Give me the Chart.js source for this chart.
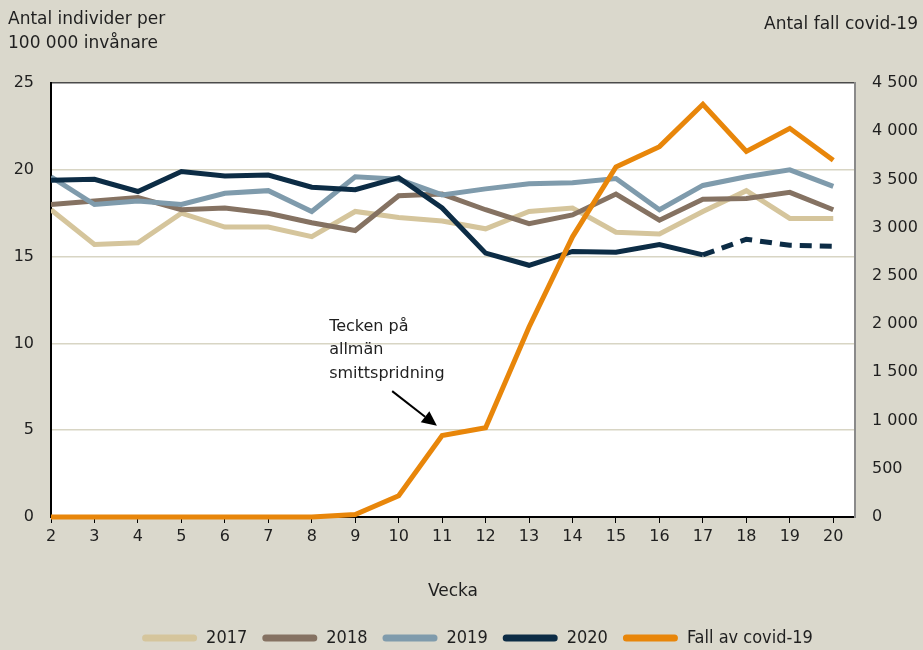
<!DOCTYPE html>
<html>
<head>
<meta charset="utf-8">
<script src="https://cdn.jsdelivr.net/npm/chart.js@4.4.1/dist/chart.umd.min.js"></script>
<style>
  html, body { margin: 0; padding: 0; background: #dad8cc; }
  #wrap { width: 923px; height: 650px; }
</style>
</head>
<body>
<div id="wrap"><canvas id="chart" width="923" height="650"></canvas></div>
<script>
const weeks = [2, 3, 4, 5, 6, 7, 8, 9, 10, 11, 12, 13, 14, 15, 16, 17, 18, 19, 20];
const y2017 = [17.7, 15.7, 15.8, 17.5, 16.7, 16.7, 16.15, 17.6, 17.25, 17.05, 16.6, 17.6, 17.8, 16.4, 16.3, 17.6, 18.8, 17.2, 17.2];
const y2018 = [18.0, 18.2, 18.4, 17.7, 17.8, 17.5, 16.95, 16.5, 18.5, 18.6, 17.7, 16.9, 17.4, 18.6, 17.1, 18.3, 18.35, 18.7, 17.7];
const y2019 = [19.6, 18.0, 18.2, 18.0, 18.65, 18.8, 17.6, 19.6, 19.45, 18.55, 18.9, 19.2, 19.25, 19.5, 17.7, 19.1, 19.6, 20.0, 19.05];
const y2020 = [19.4, 19.45, 18.75, 19.9, 19.65, 19.7, 19.0, 18.85, 19.55, 17.8, 15.2, 14.5, 15.3, 15.25, 15.7, 15.1, 16.0, 15.65, 15.6];
const covidCases = [0, 0, 0, 0, 0, 0, 0, 25, 220, 845, 925, 1970, 2905, 3630, 3840, 4280, 3790, 4030, 3700];
// 2020 is preliminary from week 17 on (dashed)
const prelimFrom = 17;

const leftTicks = [0, 5, 10, 15, 20, 25];
const rightTicks = [0, 500, 1000, 1500, 2000, 2500, 3000, 3500, 4000, 4500];

const leftTitle = ["Antal individer per", "100 000 invånare"];
const rightTitle = "Antal fall covid-19";
const xTitle = "Vecka";
const noteLines = ["Tecken på", "allmän", "smittspridning"];
// annotation anchors, in data units (x = week, y = left axis)
const noteAt = { x: 8.4, y: 10.96 };
const arrowFrom = { x: 9.85, y: 7.25 };
const arrowTo = { x: 10.88, y: 5.25 };

const FONT = "'DejaVu Sans', sans-serif";
const INK = "#1f1f1f";

const pts = (vals) => weeks.map((w, i) => ({ x: w, y: vals[i] }));
const fmtThousands = (v) => String(v).replace(/\B(?=(\d{3})+(?!\d))/g, " ");

function line(label, vals, color, axis, order, extra = {}) {
  return {
    label, data: pts(vals), yAxisID: axis, order,
    borderColor: color, backgroundColor: color, borderWidth: 5,
    pointRadius: 0, pointHoverRadius: 0, tension: 0, fill: false,
    ...extra,
  };
}

const decor = {
  id: "decor",
  beforeDraw(chart) {
    const { ctx, chartArea: a } = chart;
    ctx.save();
    ctx.fillStyle = "#ffffff";
    ctx.fillRect(a.left, a.top, a.right - a.left, a.bottom - a.top);
    ctx.restore();
  },
  afterDraw(chart) {
    const { ctx, chartArea: a, scales } = chart;
    ctx.save();
    ctx.strokeStyle = "#8a8a8a";
    ctx.lineWidth = 2;
    ctx.beginPath();
    ctx.moveTo(a.right, a.top);
    ctx.lineTo(a.right, a.bottom);
    ctx.stroke();

    ctx.fillStyle = INK;
    ctx.font = `17px ${FONT}`;
    ctx.textBaseline = "middle";
    ctx.textAlign = "left";
    ctx.fillText(leftTitle[0], 8, 20);
    ctx.fillText(leftTitle[1], 8, 44);
    ctx.textAlign = "right";
    ctx.fillText(rightTitle, 918, 25);

    // annotation
    const x = scales.x, y = scales.y;
    ctx.textAlign = "left";
    ctx.font = `16px ${FONT}`;
    const nx = x.getPixelForValue(noteAt.x), ny = y.getPixelForValue(noteAt.y);
    noteLines.forEach((t, i) => ctx.fillText(t, nx, ny + i * 23.4));

    const x0 = x.getPixelForValue(arrowFrom.x), y0 = y.getPixelForValue(arrowFrom.y);
    const x1 = x.getPixelForValue(arrowTo.x), y1 = y.getPixelForValue(arrowTo.y);
    const ang = Math.atan2(y1 - y0, x1 - x0);
    const head = 15, half = 7;
    const bx = x1 - head * Math.cos(ang), by = y1 - head * Math.sin(ang);
    ctx.strokeStyle = "#000";
    ctx.fillStyle = "#000";
    ctx.lineWidth = 2;
    ctx.beginPath();
    ctx.moveTo(x0, y0);
    ctx.lineTo(bx, by);
    ctx.stroke();
    ctx.beginPath();
    ctx.moveTo(x1, y1);
    ctx.lineTo(bx + half * Math.sin(ang), by - half * Math.cos(ang));
    ctx.lineTo(bx - half * Math.sin(ang), by + half * Math.cos(ang));
    ctx.closePath();
    ctx.fill();
    ctx.restore();
  },
};

new Chart(document.getElementById("chart"), {
  type: "line",
  data: {
    datasets: [
      line("2017", y2017, "#d5c59c", "y", 4),
      line("2018", y2018, "#857262", "y", 3),
      line("2019", y2019, "#7f9bac", "y", 2),
      line("2020", y2020, "#0c2c45", "y", 1, {
        segment: { borderDash: (c) => (weeks[c.p0DataIndex] >= prelimFrom ? [12, 8] : undefined) },
      }),
      line("Fall av covid-19", covidCases, "#e8860a", "y1", 0, { clip: 8 }),
    ],
  },
  options: {
    responsive: false,
    animation: false,
    events: [],
    // negative right padding widens the legend box so it centres like the original
    layout: { padding: { top: 83, left: 0, right: -32, bottom: -7 } },
    plugins: {
      tooltip: { enabled: false },
      legend: {
        position: "bottom",
        labels: {
          color: INK,
          font: { family: "'DejaVu Sans Condensed', " + FONT, size: 18 },
          boxWidth: 55,
          boxHeight: 7,
          useBorderRadius: true,
          borderRadius: 3.5,
          padding: 15,
          sort: (a, b) => a.datasetIndex - b.datasetIndex,
          generateLabels: (chart) =>
            Chart.defaults.plugins.legend.labels.generateLabels(chart).map((l) => ({ ...l, lineWidth: 0 })),
        },
      },
    },
    scales: {
      x: {
        type: "linear",
        min: 2,
        max: 20.5,
        afterFit: (s) => { s.height = 97; },
        ticks: { stepSize: 1, includeBounds: false, color: INK, font: { family: FONT, size: 16 }, padding: 4 },
        grid: { drawOnChartArea: false, drawTicks: true, tickLength: 6, tickColor: "#000", tickWidth: 1 },
        border: { color: "#000", width: 2 },
        title: { display: true, text: xTitle, color: INK, font: { family: FONT, size: 17 }, padding: { top: 0, bottom: 12 } },
      },
      y: {
        position: "left",
        min: 0,
        max: 25,
        afterFit: (s) => { s.width = 51; },
        afterBuildTicks: (s) => { s.ticks = leftTicks.map((v) => ({ value: v })); },
        ticks: { color: INK, font: { family: FONT, size: 16 }, padding: 17 },
        grid: {
          drawTicks: false,
          lineWidth: 1.5,
          color: (c) => (c.tick.value === 25 ? "#4a4a4a" : c.tick.value === 0 ? "rgba(0,0,0,0)" : "#d8d5c4"),
        },
        border: { color: "#000", width: 2 },
      },
      y1: {
        position: "right",
        min: 0,
        max: 4500,
        afterFit: (s) => { s.width = 100; },
        afterBuildTicks: (s) => { s.ticks = rightTicks.map((v) => ({ value: v })); },
        ticks: { color: INK, font: { family: FONT, size: 16 }, padding: 17, callback: (v) => fmtThousands(v) },
        grid: { drawOnChartArea: false, drawTicks: false },
        border: { color: "#8a8a8a", width: 2 },
      },
    },
  },
  plugins: [decor],
});
</script>
</body>
</html>
